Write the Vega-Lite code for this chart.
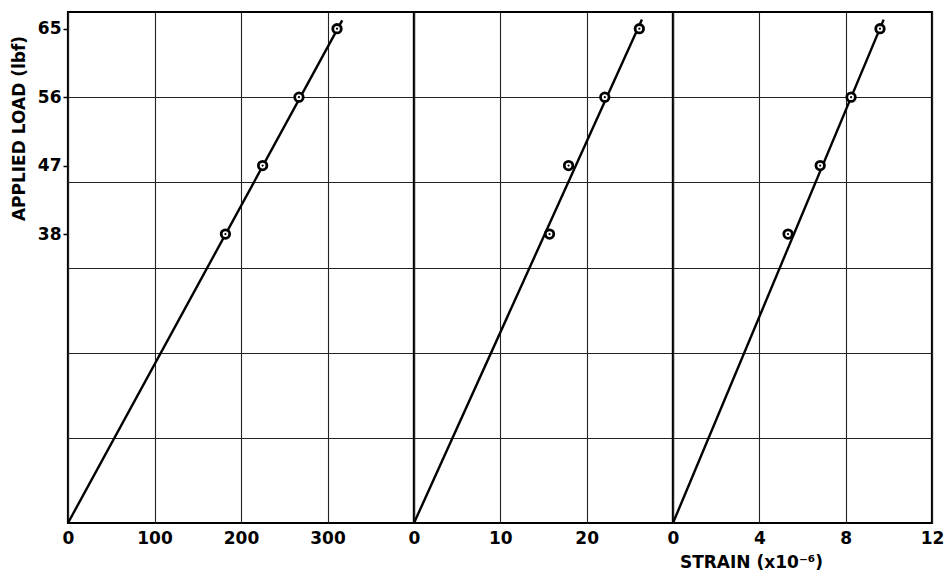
{
  "$schema": "https://vega.github.io/schema/vega-lite/v6.json",
  "background": "white",
  "padding": {"left": 9, "top": 10, "right": 0, "bottom": 0},
  "datasets": {
    "points": [
      {"panel": 1, "strain": 182, "load": 38},
      {"panel": 1, "strain": 225, "load": 47},
      {"panel": 1, "strain": 267, "load": 56},
      {"panel": 1, "strain": 311, "load": 65},
      {"panel": 2, "strain": 15.7, "load": 38},
      {"panel": 2, "strain": 17.9, "load": 47},
      {"panel": 2, "strain": 22.1, "load": 56},
      {"panel": 2, "strain": 26.1, "load": 65},
      {"panel": 3, "strain": 5.33, "load": 38},
      {"panel": 3, "strain": 6.82, "load": 47},
      {"panel": 3, "strain": 8.25, "load": 56},
      {"panel": 3, "strain": 9.59, "load": 65}
    ],
    "fits": [
      {"panel": 1, "strain": 0, "load": 0},
      {"panel": 1, "strain": 317, "load": 66.1},
      {"panel": 2, "strain": 0, "load": 0},
      {"panel": 2, "strain": 26.4, "load": 66.2},
      {"panel": 3, "strain": 0, "load": 0},
      {"panel": 3, "strain": 9.76, "load": 66.2}
    ]
  },
  "spacing": 0,
  "bounds": "flush",
  "hconcat": [
    {
      "width": 346,
      "height": 511,
      "encoding": {
        "x": {"field": "strain", "type": "quantitative",
          "scale": {"domain": [0, 400], "nice": false},
          "axis": {"values": [0, 100, 200, 300], "grid": true, "ticks": false, "domain": false, "title": null, "labelPadding": 7}}
      },
      "layer": [
        {
          "data": {"name": "fits"},
          "transform": [{"filter": "datum.panel == 1"}],
          "mark": {"type": "line", "color": "black", "strokeWidth": 2.4},
          "encoding": {
            "y": {"field": "load", "type": "quantitative",
              "scale": {"domain": [0, 67.2], "nice": false},
              "axis": {"values": [38, 47, 56, 65], "grid": false, "ticks": true, "tickSize": 5, "tickWidth": 1.5, "domain": false, "labelPadding": 2,
                "title": "APPLIED LOAD (lbf)", "titleY": 116, "titleAlign": "center", "titlePadding": 9}}
          }
        },
        {
          "data": {"name": "points"},
          "transform": [{"filter": "datum.panel == 1"}],
          "mark": {"type": "point", "shape": "circle", "size": 72, "strokeWidth": 2.8, "stroke": "black", "fill": "white", "filled": true, "opacity": 1},
          "encoding": {
            "y": {"field": "load", "type": "quantitative",
              "scale": {"domain": [0, 67.2], "nice": false},
              "axis": {"orient": "right", "values": [11.2, 22.4, 33.6, 44.8, 56], "grid": true, "labels": false, "ticks": false, "domain": false, "title": null}}
          }
        },
        {
          "data": {"name": "points"},
          "transform": [{"filter": "datum.panel == 1"}],
          "mark": {"type": "point", "shape": "circle", "size": 5, "color": "black", "filled": true, "opacity": 1},
          "encoding": {
            "y": {"field": "load", "type": "quantitative", "scale": {"domain": [0, 67.2], "nice": false}, "axis": null}
          }
        }
      ],
      "resolve": {"axis": {"y": "independent"}}
    },
    {
      "width": 259,
      "height": 511,
      "encoding": {
        "x": {"field": "strain", "type": "quantitative",
          "scale": {"domain": [0, 30], "nice": false},
          "axis": {"values": [0, 10, 20], "grid": true, "ticks": false, "domain": false, "title": null, "labelPadding": 7}},
        "y": {"field": "load", "type": "quantitative",
          "scale": {"domain": [0, 67.2], "nice": false},
          "axis": {"values": [11.2, 22.4, 33.6, 44.8, 56], "grid": true, "labels": false, "ticks": false, "domain": false, "title": null}}
      },
      "layer": [
        {
          "data": {"name": "fits"},
          "transform": [{"filter": "datum.panel == 2"}],
          "mark": {"type": "line", "color": "black", "strokeWidth": 2.4}
        },
        {
          "data": {"name": "points"},
          "transform": [{"filter": "datum.panel == 2"}],
          "mark": {"type": "point", "shape": "circle", "size": 72, "strokeWidth": 2.8, "stroke": "black", "fill": "white", "filled": true, "opacity": 1}
        },
        {
          "data": {"name": "points"},
          "transform": [{"filter": "datum.panel == 2"}],
          "mark": {"type": "point", "shape": "circle", "size": 5, "color": "black", "filled": true, "opacity": 1}
        }
      ]
    },
    {
      "width": 259,
      "height": 511,
      "encoding": {
        "x": {"field": "strain", "type": "quantitative",
          "scale": {"domain": [0, 12], "nice": false},
          "axis": {"values": [0, 4, 8, 12], "grid": true, "ticks": false, "domain": false, "labelPadding": 7,
            "title": "STRAIN (x10⁻⁶)", "titleX": 78, "titleAlign": "center", "titlePadding": 8}},
        "y": {"field": "load", "type": "quantitative",
          "scale": {"domain": [0, 67.2], "nice": false},
          "axis": {"values": [11.2, 22.4, 33.6, 44.8, 56], "grid": true, "labels": false, "ticks": false, "domain": false, "title": null}}
      },
      "layer": [
        {
          "data": {"name": "fits"},
          "transform": [{"filter": "datum.panel == 3"}],
          "mark": {"type": "line", "color": "black", "strokeWidth": 2.4}
        },
        {
          "data": {"name": "points"},
          "transform": [{"filter": "datum.panel == 3"}],
          "mark": {"type": "point", "shape": "circle", "size": 72, "strokeWidth": 2.8, "stroke": "black", "fill": "white", "filled": true, "opacity": 1}
        },
        {
          "data": {"name": "points"},
          "transform": [{"filter": "datum.panel == 3"}],
          "mark": {"type": "point", "shape": "circle", "size": 5, "color": "black", "filled": true, "opacity": 1}
        }
      ]
    }
  ],
  "config": {
    "view": {"stroke": "black", "strokeWidth": 2.2},
    "axis": {
      "labelFont": "DejaVu Sans",
      "labelFontSize": 17,
      "labelFontWeight": "bold",
      "labelColor": "black",
      "labelFlush": false,
      "labelOverlap": false,
      "titleFont": "DejaVu Sans",
      "titleFontSize": 17,
      "titleFontWeight": "bold",
      "titleColor": "black",
      "gridColor": "#222",
      "gridWidth": 1.1,
      "gridOpacity": 1,
      "tickColor": "black"
    }
  }
}
